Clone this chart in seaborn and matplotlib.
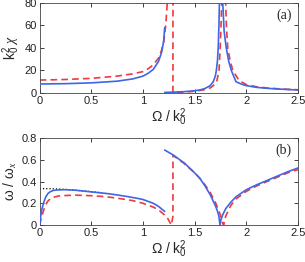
import numpy as np
import pandas as pd
import matplotlib
matplotlib.use("Agg")
import matplotlib.pyplot as plt
import seaborn as sns

# panel (a): susceptibility branches
a_blue1_x = [0, 0.25, 0.5, 0.75, 0.9, 1.0, 1.05, 1.1, 1.15, 1.18, 1.2, 1.21]
a_blue1_y = [8, 8.3, 9, 10.5, 12.5, 15, 17.5, 21, 28, 36, 46, 58]
a_blue2_x = [1.21, 1.3, 1.4, 1.5, 1.55, 1.6, 1.65, 1.68, 1.7, 1.71, 1.72, 1.728, 1.735, 1.742,
             1.757, 1.772, 1.785, 1.806, 1.83, 1.855, 1.9, 1.95, 2.0, 2.1, 2.2, 2.3, 2.4, 2.5]
a_blue2_y = [0.5, 0.8, 1.2, 2.0, 2.7, 4, 6.5, 10, 15, 20, 28, 40, 60, 90,
             200, 80, 55, 40, 28, 20, 10, 8, 6.5, 5, 4.2, 3.6, 3.1, 2.7]
a_red1_x = [0, 0.25, 0.5, 0.75, 0.9, 1.0, 1.05, 1.1, 1.15, 1.18, 1.2, 1.22, 1.235, 1.245]
a_red1_y = [11.5, 12, 13, 15, 17, 19, 21.5, 25, 31, 38, 45, 60, 80, 110]
a_red2_x = [1.29, 1.29, 1.35, 1.4, 1.5, 1.6, 1.65, 1.7, 1.713, 1.736, 1.747, 1.755, 1.762,
            1.78, 1.80, 1.807, 1.82, 1.845, 1.87, 1.93, 2.0, 2.1, 2.2, 2.3, 2.4, 2.5]
a_red2_y = [110, 0.2, 0.5, 0.8, 1.5, 3, 4.5, 8, 10, 20, 40, 60, 80,
            200, 80, 60, 40, 28, 20, 11, 7.5, 5.5, 4.5, 3.8, 3.3, 2.9]

# panel (b): frequency branches
b_blue1_x = [0, 0.01, 0.02, 0.04, 0.06, 0.08, 0.1, 0.13, 0.17, 0.25, 0.35, 0.5, 0.65, 0.75,
             0.85, 0.95, 1.0, 1.1, 1.15, 1.21]
b_blue1_y = [0, 0.08, 0.14, 0.21, 0.26, 0.29, 0.305, 0.318, 0.323, 0.325, 0.32, 0.305, 0.29,
             0.277, 0.262, 0.245, 0.235, 0.2, 0.172, 0.125]
b_blue2_x = [1.21, 1.3, 1.4, 1.5, 1.55, 1.6, 1.65, 1.7, 1.72, 1.735, 1.745, 1.755, 1.77, 1.8,
             1.85, 1.9, 2.0, 2.1, 2.25, 2.4, 2.5]
b_blue2_y = [0.69, 0.64, 0.57, 0.48, 0.43, 0.36, 0.28, 0.18, 0.13, 0.08, 0.0, 0.05, 0.09, 0.15,
             0.21, 0.26, 0.325, 0.37, 0.43, 0.49, 0.525]
b_red_x = [0, 0.02, 0.04, 0.06, 0.08, 0.1, 0.15, 0.2, 0.35, 0.5, 0.65, 0.8, 0.9, 1.0, 1.1,
           1.15, 1.2, 1.24, 1.274, 1.29, 1.29, 1.35, 1.4, 1.5, 1.55, 1.6, 1.65, 1.7, 1.73,
           1.75, 1.77, 1.78, 1.8, 1.85, 1.9, 2.0, 2.1, 2.25, 2.4, 2.5]
b_red_y = [0, 0.08, 0.14, 0.19, 0.22, 0.24, 0.26, 0.27, 0.275, 0.27, 0.26, 0.24, 0.225, 0.2,
           0.165, 0.14, 0.1, 0.06, 0.0, 0.08, 0.64, 0.6, 0.565, 0.48, 0.43, 0.37, 0.3, 0.21,
           0.14, 0.09, 0.02, 0.0, 0.08, 0.18, 0.24, 0.31, 0.36, 0.42, 0.48, 0.51]
b_dot_x = [0, 0.1, 0.2, 0.3, 0.45, 0.6]
b_dot_y = [0.335, 0.334, 0.331, 0.325, 0.312, 0.297]

x_ticks = [0, 0.5, 1, 1.5, 2, 2.5]
x_ticklabels = ["0", "0.5", "1", "1.5", "2", "2.5"]
a_yticks = [0, 20, 40, 60, 80]
b_yticks = [0, 0.2, 0.4, 0.6, 0.8]
b_yticklabels = ["0", "0.2", "0.4", "0.6", "0.8"]

blue = "#3d66e8"
red = "#f0393c"

sns.set_style("ticks")
plt.rcParams["font.family"] = ["Liberation Sans", "DejaVu Sans"]
plt.rcParams["mathtext.fontset"] = "custom"
plt.rcParams["mathtext.rm"] = "Liberation Sans"
plt.rcParams["mathtext.it"] = "Liberation Serif:italic"


def branches(parts):
    frames = []
    for i, (xs, ys) in enumerate(parts):
        frames.append(pd.DataFrame({"x": xs, "y": ys, "branch": i}))
    return pd.concat(frames, ignore_index=True)


def draw(ax, df, color, ls, lw, z=2):
    sns.lineplot(data=df, x="x", y="y", units="branch", estimator=None, sort=False,
                 color=color, linestyle=ls, linewidth=lw, ax=ax, zorder=z)


fig = plt.figure(figsize=(3.05, 2.62), dpi=100)
ax1 = fig.add_axes([0.13, 0.645, 0.847, 0.344])
ax2 = fig.add_axes([0.13, 0.141, 0.847, 0.332])

draw(ax1, branches([(a_red1_x, a_red1_y), (a_red2_x, a_red2_y)]), red, (0, (4, 2.5)), 1.2)
draw(ax1, branches([(a_blue1_x, a_blue1_y), (a_blue2_x, a_blue2_y)]), blue, "-", 1.2, 3)

draw(ax2, branches([(b_dot_x, b_dot_y)]), "black", (0, (1, 1.6)), 0.9, 1)
draw(ax2, branches([(b_red_x, b_red_y)]), red, (0, (4, 2.5)), 1.2)
draw(ax2, branches([(b_blue1_x, b_blue1_y), (b_blue2_x, b_blue2_y)]), blue, "-", 1.2, 3)

for ax in (ax1, ax2):
    ax.set_xlim(0, 2.5)
    ax.set_xticks(x_ticks)
    ax.set_xticklabels(x_ticklabels)
    ax.tick_params(direction="in", length=3, width=0.6, top=True, right=True,
                   labelsize=8, pad=2, colors="#222222")
    for s in ax.spines.values():
        s.set_linewidth(0.6)
        s.set_color("#444444")
    ax.set_xlabel("Ω / k$_0^2$", fontsize=10, labelpad=0)

ax1.set_ylim(0, 80)
ax1.set_yticks(a_yticks)
ax1.set_ylabel("k$_0^2$ $\\chi$", fontsize=10, labelpad=2)
ax1.text(0.975, 0.94, "(a)", transform=ax1.transAxes, ha="right", va="top",
         fontsize=10, family="Liberation Serif")

ax2.set_ylim(0, 0.8)
ax2.set_yticks(b_yticks)
ax2.set_yticklabels(b_yticklabels)
ax2.set_ylabel("ω / ω$_x$", fontsize=10, labelpad=2)
ax2.text(0.975, 0.94, "(b)", transform=ax2.transAxes, ha="right", va="top",
         fontsize=10, family="Liberation Serif")

fig.savefig("out.png", dpi=100)
